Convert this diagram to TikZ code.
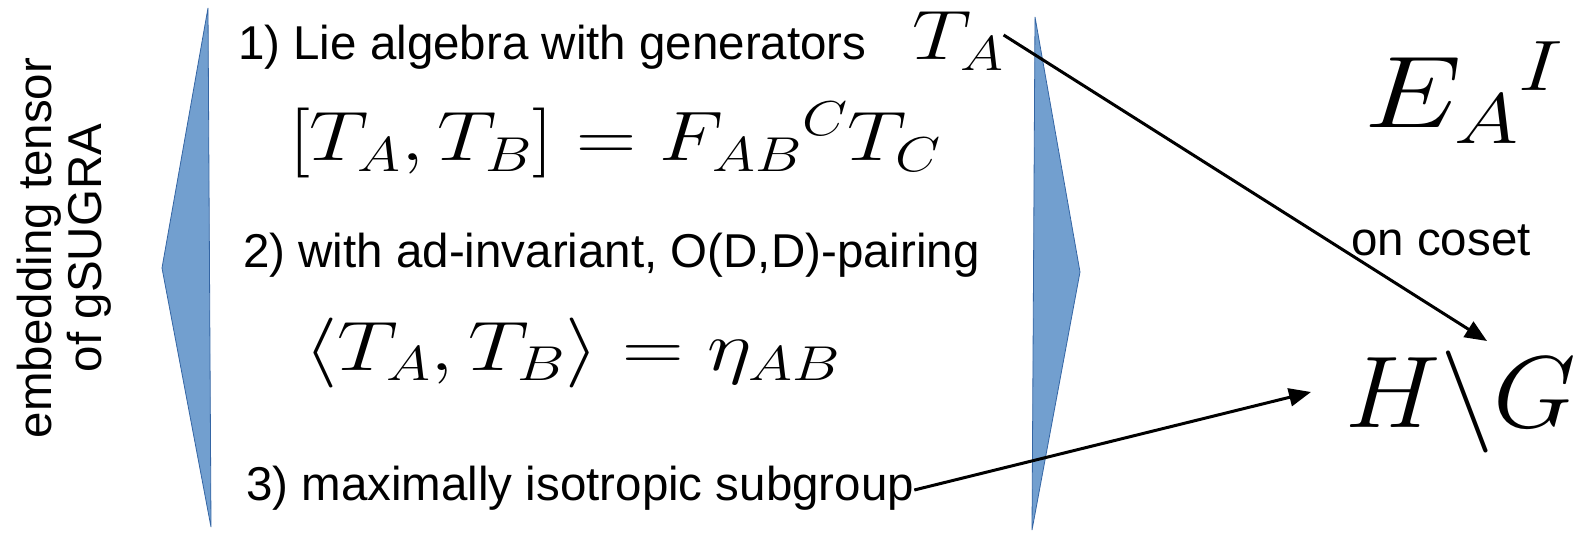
\RequirePackage{fix-cm}
\documentclass[tikz,border=0pt]{standalone}
\usepackage{fontspec}
\setmainfont{Liberation Sans}
\usepackage{amsmath}
\usetikzlibrary{arrows.meta, positioning}
\definecolor{WedgeFill}{HTML}{729FCF}
\definecolor{WedgeLine}{HTML}{3465A4}
\tikzset{
  label text/.style={inner sep=0pt, anchor=base west, font=\fontsize{47.5}{56}\selectfont},
  big math/.style={inner sep=0pt, anchor=base west, font=\fontsize{70}{80}\selectfont},
  huge math/.style={inner sep=0pt, anchor=base west, font=\fontsize{102}{120}\selectfont},
  wedge/.style={fill=WedgeFill, draw=WedgeLine, line width=0.8pt, line join=miter},
  arrow/.style={-{Triangle[length=22pt, width=18pt]}, line width=3pt, black},
}
\begin{document}
\begin{tikzpicture}[x=1pt, y=-1pt]
  \useasboundingbox (0,0) rectangle (1574,537);

  % -- side wedges --------------------------------------------------------
  \path[wedge] (208,8) -- (162,268) -- (211,527) -- cycle;
  \path[wedge] (1035,17) -- (1080,272) -- (1032,530) -- cycle;

  % -- rotated caption ----------------------------------------------------
  \node[inner sep=0pt, rotate=90, align=center,
        font=\fontsize{47.5}{50}\selectfont] (embed) at (64,248)
    {embedding tensor\\of gSUGRA};

  % -- conditions -----------------------------------------------------------
  \node[label text] (lie)     at (238,60)  {1) Lie algebra with generators};
  \node[big math]   (ta)      at (912,60)  {\scalebox{1.19}[1]{$T_A$}};
  \node[big math]   (bracket) at (289,161) {\scalebox{1.19}[1]{$[T_A,T_B]=F_{AB}{}^{C}T_C$}};
  \node[label text] (pairing) at (243,268) {2) with ad-invariant, O(D,D)-pairing};
  \node[big math]   (eta)     at (304,370) {\scalebox{1.22}[1]{$\langle T_A,T_B\rangle=\eta_{AB}$}};
  \node[label text] (iso)     at (246,500) {3) maximally isotropic subgroup};

  % -- coset side -----------------------------------------------------------
  \node[huge math]  (vielbein) at (1364,128) {\scalebox{1.22}[1]{$E_A{}^I$}};
  \node[label text] (coset)    at (1351,256) {on coset};
  \node[huge math]  (hg)       at (1345,427) {\scalebox{1.05}[1]{$H\backslash G$}};

  \coordinate (tip1) at (1487,341);
  \coordinate (tip2) at (1311,392);

  % -- arrows -----------------------------------------------------------
  \draw[arrow] (ta.east |- 0,35) -- (tip1);
  \draw[arrow] (iso.east |- 0,490) -- (tip2);

\end{tikzpicture}
\end{document}
